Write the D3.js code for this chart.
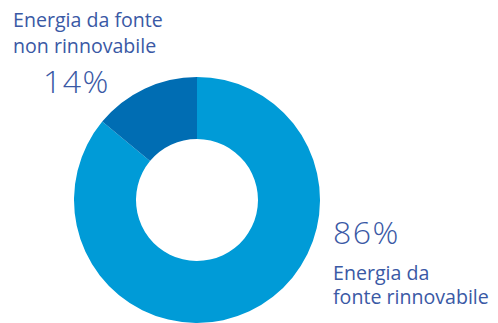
<!DOCTYPE html>
<html><head><meta charset="utf-8">
<script src="https://cdn.jsdelivr.net/npm/d3@7"></script>
<style>body{margin:0;background:#fff}svg{display:block}</style>
</head><body>
<svg id="c" width="498" height="323"></svg>
<script>
const categories = ["Energia da fonte rinnovabile", "Energia da fonte non rinnovabile"];
const values = [86, 14];
const labelLines = [["Energia da", "fonte rinnovabile"], ["Energia da fonte", "non rinnovabile"]];
const colors = ["#009bd7", "#006db3"];
const textColor = "#3a59a5";

const svg = d3.select("#c");
const cx = 197, cy = 200, rOuter = 123, rInner = 61;
const pie = d3.pie().sort(null).value(d => d)(values);
const arc = d3.arc().innerRadius(rInner).outerRadius(rOuter);
const g = svg.append("g").attr("transform", `translate(${cx},${cy})`);
g.selectAll("path").data(pie).enter().append("path")
  .attr("d", arc).attr("fill", (d, i) => colors[i]);

const font = "'Open Sans', sans-serif";
// renewable label (right)
svg.append("text").attr("x", 333).attr("y", 243.5).attr("fill", textColor)
  .attr("font-family", font).attr("font-weight", 300).attr("font-size", 32)
  .attr("letter-spacing", 1.5)
  .text(values[0] + "%");
labelLines[0].forEach((t, i) => svg.append("text").attr("x", 333).attr("y", 279.5 + i * 24.5)
  .attr("fill", textColor).attr("font-family", font).attr("font-size", 19.6).text(t));
// non-renewable label (top-left)
labelLines[1].forEach((t, i) => svg.append("text").attr("x", 13).attr("y", 27 + i * 25.5)
  .attr("fill", textColor).attr("font-family", font).attr("font-size", 19.6).text(t));
svg.append("text").attr("x", 43).attr("y", 92.5).attr("fill", textColor)
  .attr("font-family", font).attr("font-weight", 300).attr("font-size", 32)
  .attr("letter-spacing", 1.5)
  .text(values[1] + "%");
</script>
</body></html>
